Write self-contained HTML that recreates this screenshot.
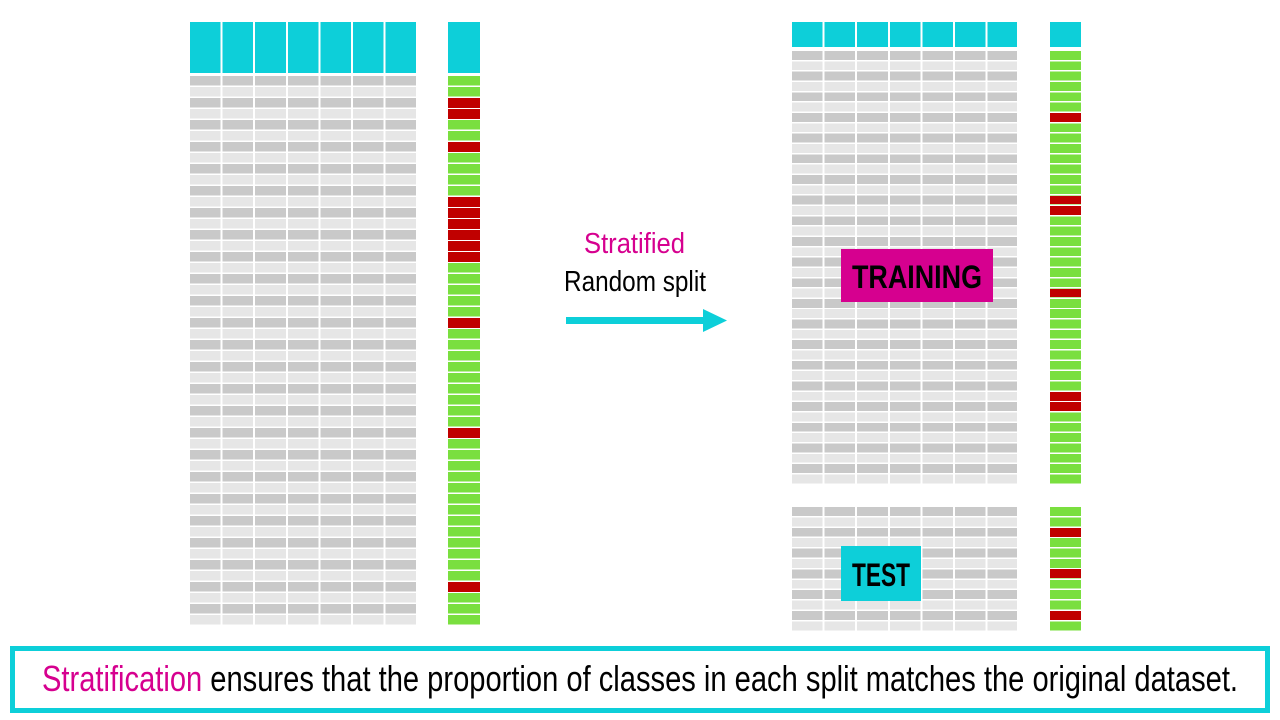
<!DOCTYPE html>
<html><head><meta charset="utf-8"><style>
*{margin:0;padding:0;box-sizing:border-box}
body{width:1280px;height:720px;background:#fff;position:relative;overflow:hidden;font-family:"Liberation Sans",sans-serif}
.a{position:absolute}
.grid{position:absolute;background:
 repeating-linear-gradient(90deg,transparent 0,transparent 30.6px,#fff 30.6px,#fff 32.6px),
 repeating-linear-gradient(180deg,#c9c9c9 0,#c9c9c9 calc(var(--p) - 1.5px),#fff calc(var(--p) - 1.5px),#fff var(--p),#e6e6e6 var(--p),#e6e6e6 calc(2*var(--p) - 1.5px),#fff calc(2*var(--p) - 1.5px),#fff calc(2*var(--p)));}
.hdr{position:absolute;background:repeating-linear-gradient(90deg,#0dcfd9 0,#0dcfd9 30.6px,#fff 30.6px,#fff 32.6px)}
.lab{position:absolute;background:repeating-linear-gradient(180deg,#7adf3f 0,#7adf3f calc(var(--p) - 1.5px),#fff calc(var(--p) - 1.5px),#fff var(--p))}
.r{position:absolute;left:0;width:100%;background:#c00000}
.t{position:absolute;white-space:nowrap;transform-origin:0 0}
</style></head><body>
<div class="hdr" style="left:190px;top:22px;width:226px;height:51px"></div>
<div class="a" style="left:448px;top:22px;width:32px;height:51px;background:#0dcfd9"></div>
<div class="grid" style="--p:11px;left:190px;top:76px;width:226px;height:550px"></div>
<div class="lab" id="L1" style="--p:11px;left:448px;top:76px;width:32px;height:550px"></div>
<div class="hdr" style="left:792px;top:22px;width:225px;height:25px"></div>
<div class="a" style="left:1050px;top:22px;width:31px;height:25px;background:#0dcfd9"></div>
<div class="grid" style="--p:10.33px;left:792px;top:51px;width:225px;height:434px"></div>
<div class="lab" id="L2" style="--p:10.33px;left:1050px;top:51px;width:31px;height:434px"></div>
<div class="grid" style="--p:10.4px;left:792px;top:507px;width:225px;height:125px"></div>
<div class="lab" id="L3" style="--p:10.4px;left:1050px;top:507px;width:31px;height:125px"></div>
<div class="a" style="left:841px;top:249px;width:152px;height:53px;background:#d6008f"></div>
<div class="t" id="tr" style="left:852px;top:259px;font-size:32px;font-weight:bold;color:#000">TRAINING</div>
<div class="a" style="left:841px;top:546px;width:80px;height:55px;background:#0dcfd9"></div>
<div class="t" id="te" style="left:852px;top:557px;font-size:32px;font-weight:bold;color:#000">TEST</div>
<div class="t" id="s1" style="left:584px;top:228px;font-size:29px;color:#d6008f">Stratified</div>
<div class="t" id="s2" style="left:564px;top:266px;font-size:29px;color:#000">Random split</div>
<div class="a" style="left:566px;top:317px;width:140px;height:7px;background:#0dcfd9"></div>
<svg class="a" style="left:700px;top:308px" width="30" height="26"><polygon points="3,1 27,12.5 3,24" fill="#0dcfd9"/></svg>
<div class="a" style="left:10px;top:646px;width:1260px;height:67px;border:5px solid #0dcfd9"></div>
<div class="t" id="bt" style="left:42px;top:658px;font-size:36px;color:#000"><span style="color:#d6008f">Stratification</span> ensures that the proportion of classes in each split matches the original dataset.</div>
<script>
function reds(id,p,rows){var e=document.getElementById(id);rows.forEach(function(i){var d=document.createElement('div');d.className='r';d.style.top=(i*p)+'px';d.style.height=(p-1.5)+'px';e.appendChild(d);});}
reds('L1',11,[2,3,6,11,12,13,14,15,16,22,32,46]);
reds('L2',10.33,[6,14,15,23,33,34]);
reds('L3',10.4,[2,6,10]);
function fit(id,w){var e=document.getElementById(id);var r=e.getBoundingClientRect().width;e.style.transform='scaleX('+(w/r)+')';}
fit('bt',1196);fit('tr',130);fit('te',58);fit('s1',101);fit('s2',142);
</script>
</body></html>
